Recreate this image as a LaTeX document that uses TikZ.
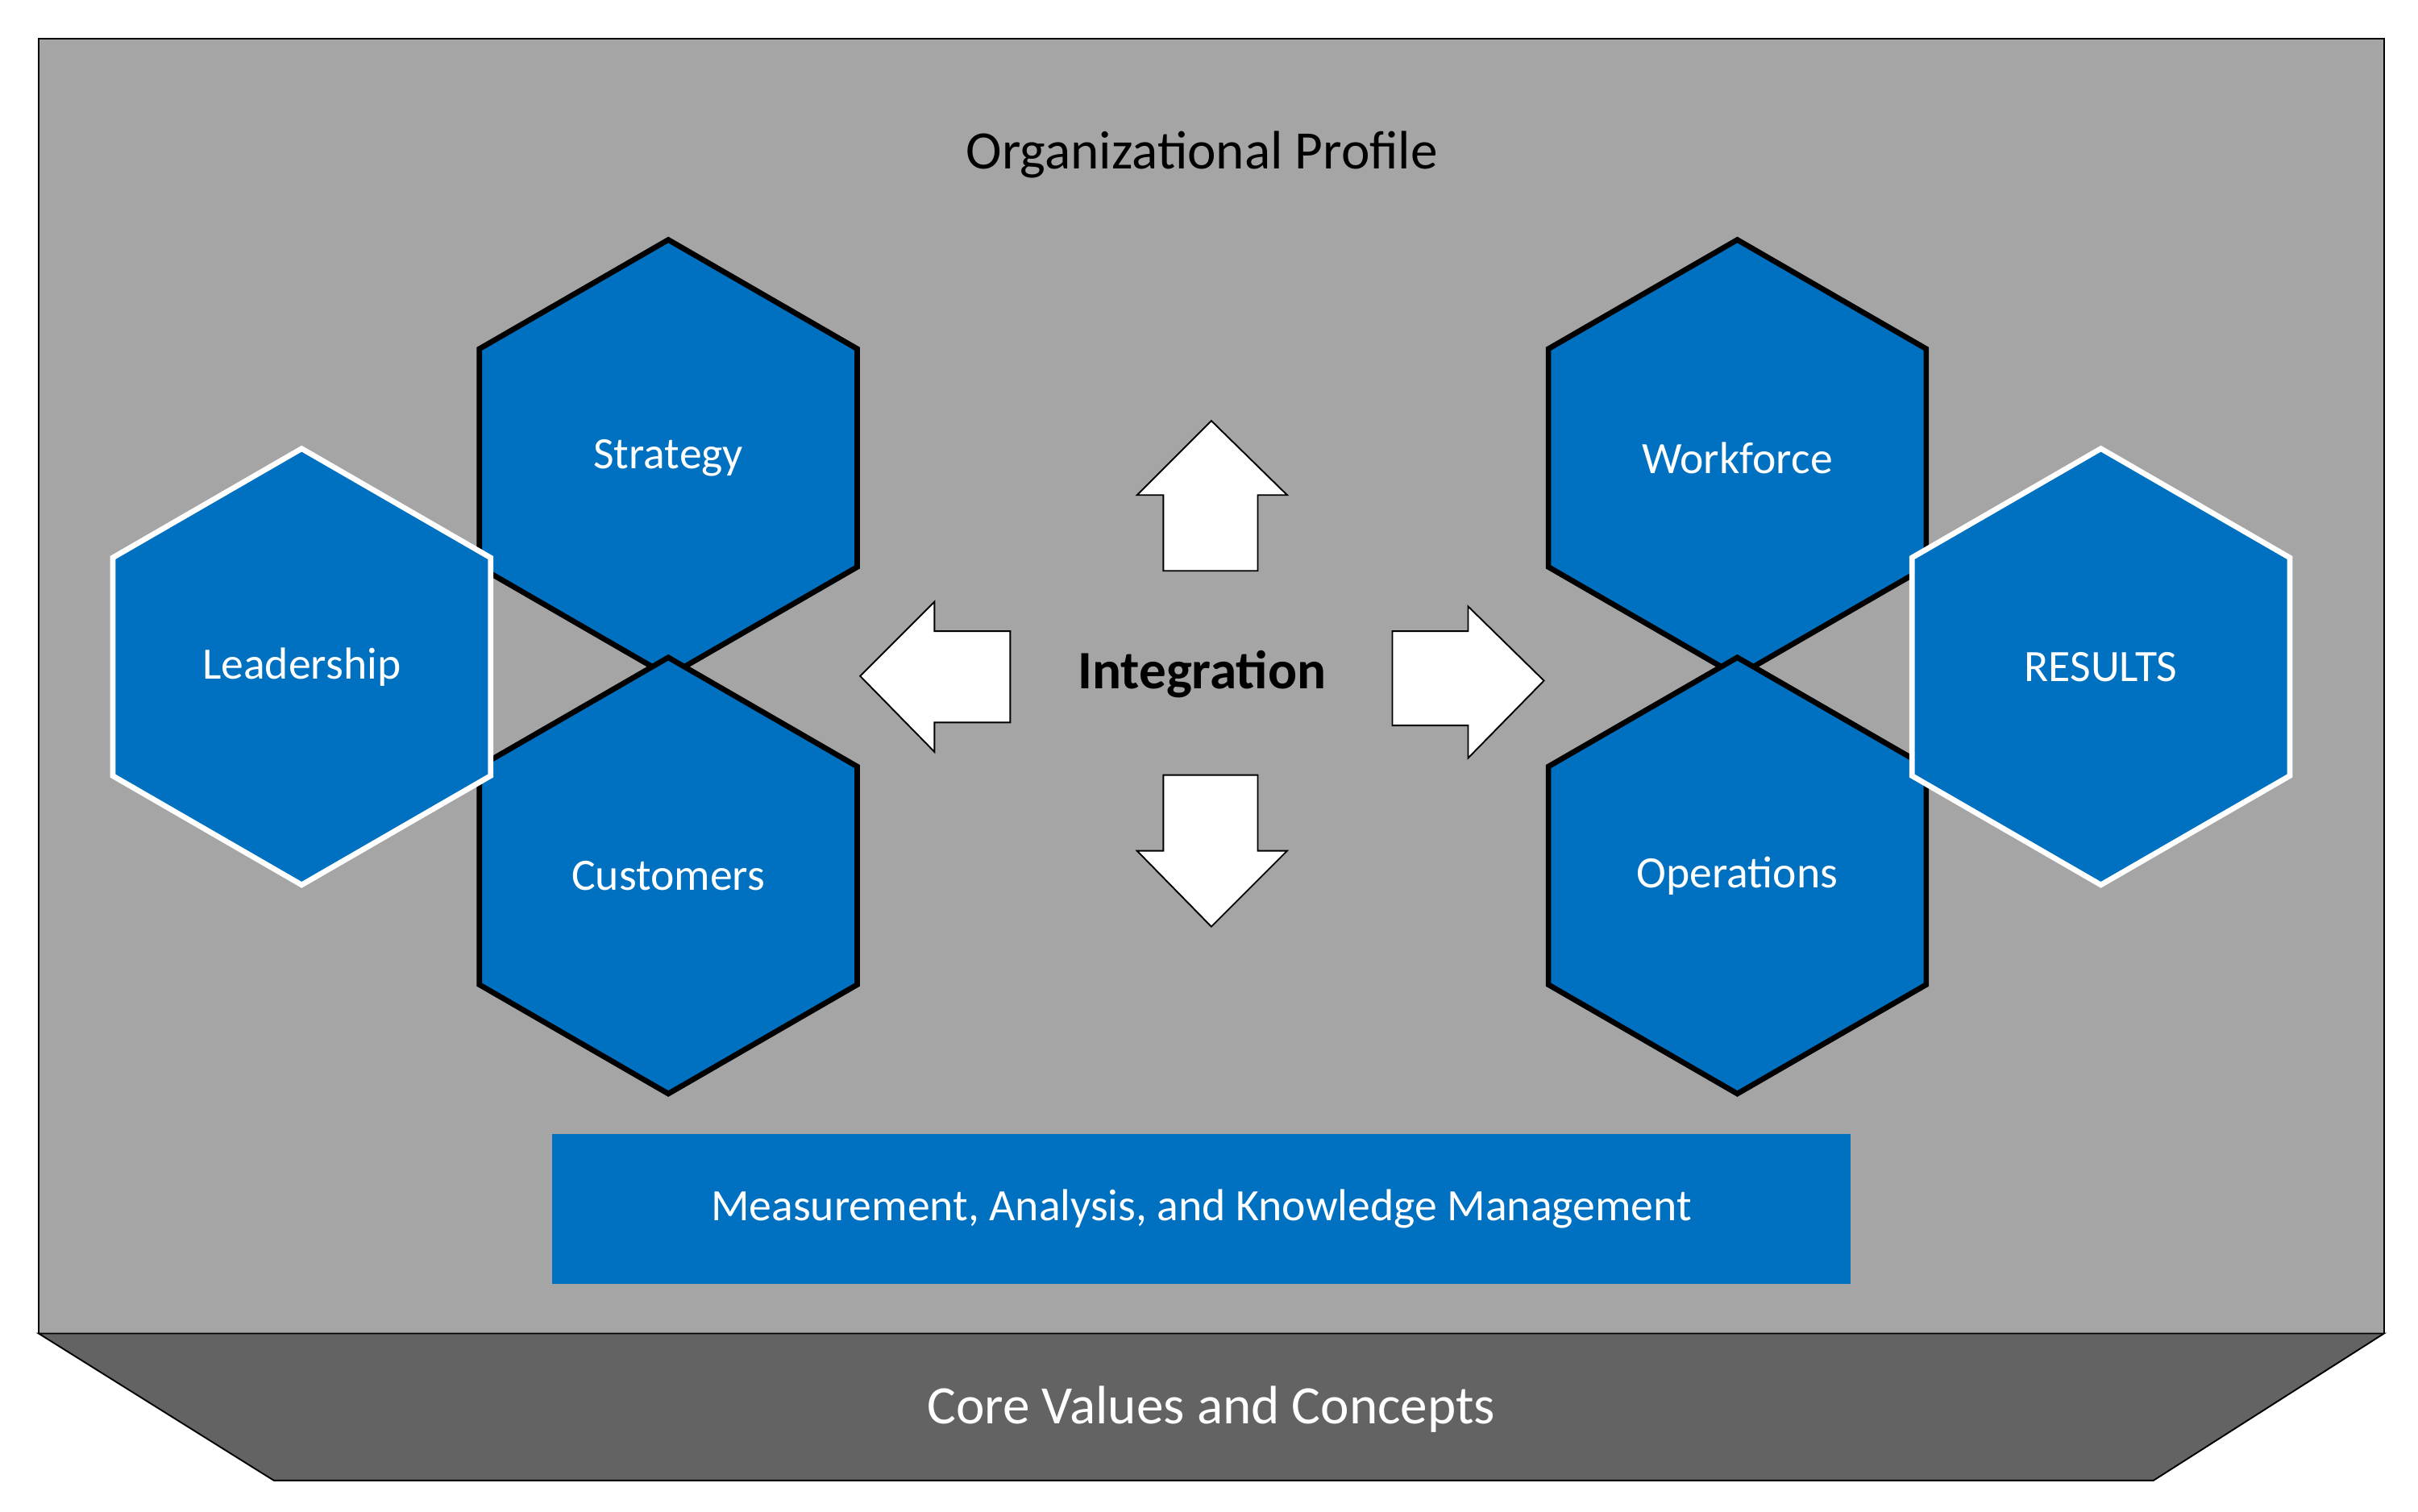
\documentclass[tikz,border=0pt]{standalone}
\usepackage{fontspec}
\setmainfont{Carlito}
\usetikzlibrary{shapes.geometric}
\definecolor{bg}{HTML}{A5A5A5}
\definecolor{dk}{HTML}{636363}
\definecolor{bl}{HTML}{0070C0}
\begin{document}
\begin{tikzpicture}[x=1pt,y=-1pt,
 hex/.style={regular polygon,regular polygon sides=6,shape border rotate=30,minimum size=282pt,fill=bl,line width=3.5pt,text=white,font=\fontsize{29}{33}\selectfont,inner sep=0pt},
 arr/.style={fill=white,draw=black,line width=1pt}]
\useasboundingbox (0,0) rectangle (1563,977);
\draw[fill=bg,line width=1pt] (25,25) rectangle (1541,862);
\draw[fill=dk,line width=1pt] (25,862) -- (1541,862) -- (1392,957) -- (177,957) -- cycle;
\node[font=\fontsize{35}{40}\selectfont] (op) at (777,100) {Organizational Profile};
\node[hex,draw=black] (str) at (432,296) {Strategy};
\node[hex,draw=black] (cus) at (432,566) {Customers};
\node[hex,draw=white] (lea) at (195,431) {Leadership};
\node[hex,draw=black] (wor) at (1123,296) {Workforce};
\node[hex,draw=black] (ope) at (1123,566) {Operations};
\node[hex,draw=white] (res) at (1358,431) {RESULTS};
\draw[arr] (783,272) -- (832,320) -- (813,320) -- (813,369) -- (752,369) -- (752,320) -- (735,320) -- cycle;
\draw[arr] (783,599) -- (832,550) -- (813,550) -- (813,501) -- (752,501) -- (752,550) -- (735,550) -- cycle;
\draw[arr] (556,437) -- (604,389) -- (604,408) -- (653,408) -- (653,467) -- (604,467) -- (604,486) -- cycle;
\draw[arr] (998,440) -- (949,392) -- (949,408) -- (900,408) -- (900,469) -- (949,469) -- (949,490) -- cycle;
\node[font=\fontsize{35}{40}\selectfont\bfseries] (int) at (777,436) {Integration};
\node[fill=bl,minimum width=839pt,minimum height=97pt,text=white,font=\fontsize{29}{33}\selectfont] (mak) at (776.5,781.5) {Measurement, Analysis, and Knowledge Management};
\node[text=white,font=\fontsize{35}{40}\selectfont] (cv) at (783,911) {Core Values and Concepts};
\end{tikzpicture}
\end{document}
